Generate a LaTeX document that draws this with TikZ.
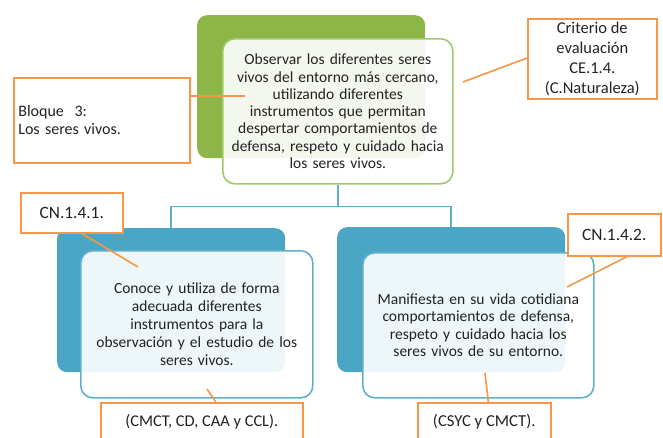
\documentclass[tikz,border=0pt]{standalone}
\usepackage{fontspec}
\setmainfont{Carlito}
\usetikzlibrary{calc}
\definecolor{grn}{RGB}{141,182,72}
\definecolor{grnline}{RGB}{160,200,110}
\definecolor{tealb}{RGB}{74,166,196}
\definecolor{tealline}{RGB}{96,176,204}
\definecolor{orng}{RGB}{247,150,70}
\definecolor{txt}{RGB}{34,34,34}
\newcommand{\fsz}[2]{\fontsize{#1}{#2}\selectfont}
\tikzset{
  backbox/.style={rounded corners=10pt, inner sep=0pt, anchor=north west},
  frontbox/.style={rounded corners=12pt, fill=white, fill opacity=0.9, text opacity=1,
    line width=1.6pt, align=center, text=txt, inner sep=0pt, anchor=north west},
  tagbox/.style={draw=orng, line width=1.6pt, fill=white, text=txt, inner sep=0pt,
    anchor=north west},
  link/.style={draw=orng, line width=1.6pt},
  treeline/.style={draw=tealline, line width=1.6pt}
}
\begin{document}
\begin{tikzpicture}[x=1pt,y=-1pt]
\useasboundingbox (0,0) rectangle (663,437);
\clip (0,0) rectangle (663,437);
% back boxes
\node[backbox, fill=grn, minimum width=228pt, minimum height=143pt] (topB) at (197,15) {};
\node[backbox, fill=tealb, minimum width=228pt, minimum height=144pt] (leftB) at (57,228) {};
\node[backbox, fill=tealb, minimum width=228pt, minimum height=145pt] (rightB) at (337,227) {};
% front boxes
\node[frontbox, draw=grnline, minimum width=230pt, minimum height=145pt, text width=226pt, font=\fsz{15.5}{17.3}] (topF) at (222,38)
  {Observar los diferentes seres\\vivos del entorno más cercano,\\utilizando diferentes\\instrumentos que permitan\\despertar comportamientos de\\defensa, respeto y cuidado hacia\\los seres vivos.};
\node[frontbox, draw=tealline, minimum width=232pt, minimum height=147pt, text width=228pt, font=\fsz{15.5}{18}] (leftF) at (80,250)
  {Conoce y utiliza de forma\\adecuada diferentes\\instrumentos para la\\observación y el estudio de los\\seres vivos.};
\node[frontbox, draw=tealline, minimum width=231pt, minimum height=145pt, text width=227pt, font=\fsz{15.5}{17.3}] (rightF) at (362,252)
  {Manifiesta en su vida cotidiana\\comportamientos de defensa,\\respeto y cuidado hacia los\\seres vivos de su entorno.};
% tree connectors
\draw[treeline] (topF.south) -- ++(0,22) -| (leftB.north);
\draw[treeline] (topF.south) -- ++(0,22) -| (rightB.north);
% tag boxes
\node[tagbox, minimum width=176pt, minimum height=85pt, text width=167pt, inner xsep=4.5pt, align=left, font=\fsz{16}{18}] (bloque) at (13,77)
  {Bloque\ \ 3:\\Los seres vivos.};
\node[tagbox, minimum width=129pt, minimum height=80pt, align=center, font=\fsz{16.5}{20}] (crit) at (527,18)
  {Criterio de\\evaluación\\CE.1.4.\\(C.Naturaleza)};
\node[tagbox, minimum width=102pt, minimum height=40pt, font=\fsz{17.3}{20}] (cn1) at (20,192) {CN.1.4.1.};
\node[tagbox, minimum width=93pt, minimum height=42pt, font=\fsz{17.3}{20}] (cn2) at (567,213) {CN.1.4.2.};
\node[tagbox, minimum width=202pt, minimum height=38pt, font=\fsz{16.4}{20}] (cmct) at (100,402) {(CMCT, CD, CAA y CCL).};
\node[tagbox, minimum width=133pt, minimum height=38pt, font=\fsz{16.7}{20}] (csyc) at (417,402) {(CSYC y CMCT).};
% orange links
\coordinate (c1) at (245,96);
\coordinate (c2) at (463,82);
\coordinate (c3) at (138,267);
\coordinate (c4) at (207,389);
\coordinate (c5) at (567,287);
\coordinate (c6) at (485,373);
\draw[link] (bloque.east |- c1) -- (c1);
\draw[link] (c2) -- ($(crit.north west)+(0,40)$);
\draw[link] ($(cn1.south west)+(62,0)$) -- (c3);
\draw[link] (c4) -- ($(cmct.north)+(14,0)$);
\draw[link] ($(cn2.south west)+(60,0)$) -- (c5);
\draw[link] (c6) -- ($(csyc.north)+(4,0)$);
\end{tikzpicture}
\end{document}
